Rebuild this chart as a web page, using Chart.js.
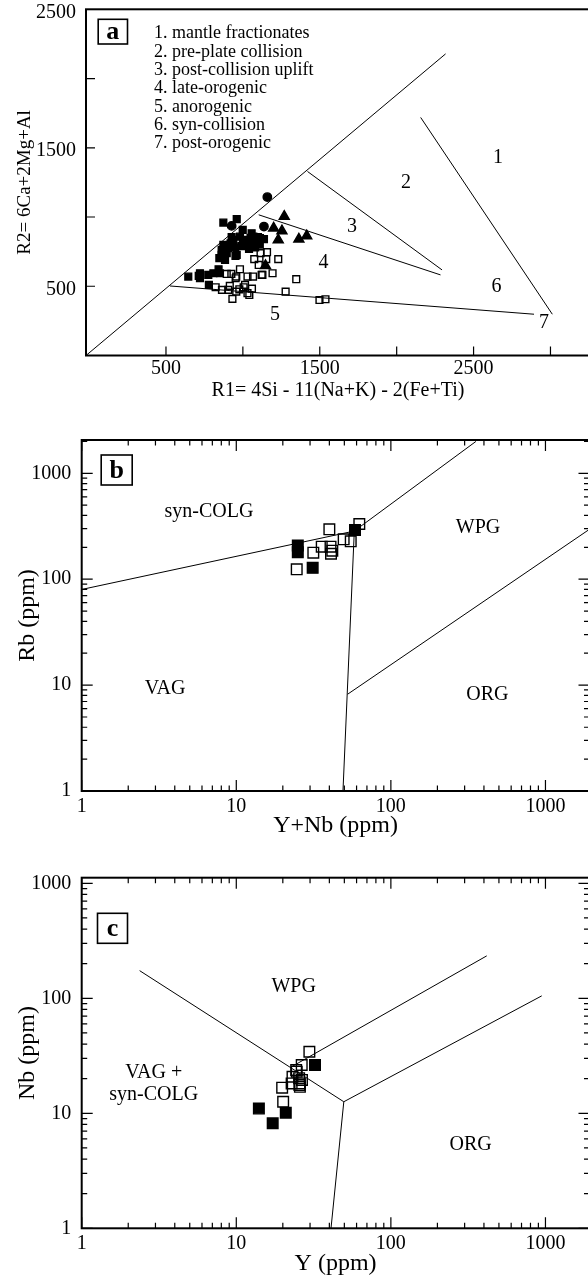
<!DOCTYPE html>
<html lang="en">
<head>
    <meta charset="UTF-8">
    <title>Granite tectonic discrimination diagrams</title>
    <script src="https://cdn.jsdelivr.net/npm/chart.js@4.4.1/dist/chart.umd.min.js"></script>
    <style>
        html, body {
            margin: 0;
            padding: 0;
            background: #fff;
        }

        body {
            width: 588px;
            height: 1278px;
            overflow: hidden;
            position: relative;
        }

        canvas {
            position: absolute;
            left: 0;
        }

        #chartA { top: 0; }
        #chartB { top: 410px; }
        #chartC { top: 850px; }
    </style>
</head>

<body>
    <canvas id="chartA" width="600" height="410"></canvas>
    <canvas id="chartB" width="600" height="440"></canvas>
    <canvas id="chartC" width="600" height="428"></canvas>
    <script>
        // ---- (a) R1-R2 diagram ----
        const aFilledSquares = [
            [873, 960], [960, 985], [999, 907], [1057, 883], [1098, 855], [1137, 840], [927, 855],
            [938, 835], [981, 859], [1025, 835], [1068, 859], [1111, 847], [1003, 799], [1068, 811],
            [873, 799], [1025, 811], [905, 775], [884, 787], [862, 763], [895, 739], [884, 750],
            [862, 727], [884, 690], [960, 727], [952, 719], [847, 703], [842, 623], [645, 570],
            [713, 575], [721, 594], [721, 558], [775, 582], [808, 594], [851, 594], [779, 510],
            [920, 810], [950, 780], [990, 790], [1040, 770], [1080, 780], [1110, 800], [1000, 830], [1050, 850]
        ];
        const aOpenSquares = [
            [1157, 746], [1115, 739], [1152, 696], [1074, 696], [1103, 654], [1230, 696], [1127, 582],
            [1193, 594], [1347, 551], [981, 623], [925, 589], [895, 589], [957, 570], [1030, 570],
            [1066, 570], [823, 493], [864, 474], [905, 474], [915, 503], [957, 461], [977, 478],
            [1005, 493], [1014, 510], [1030, 450], [1059, 483], [1042, 437], [932, 409], [1278, 461],
            [1498, 401], [1537, 406], [1122, 582], [953, 558]
        ];
        const aCircles = [[1159, 1144], [927, 936], [1137, 931]];
        const aTriangles = [[1269, 1004], [1200, 920], [1254, 900], [1230, 835], [1364, 840], [1415, 864], [1147, 649]];
        const aFieldLines = [
            [[-20, 0], [2318, 2178]],
            [[1420, 1329], [2295, 618]],
            [[1103, 1016], [2285, 582]],
            [[2156, 1719], [3012, 298]],
            [[526, 502], [2893, 298]]
        ];
        const aFieldNames = [
            ['1', 2659, 1428], ['2', 2060, 1244], ['3', 1709, 929], ['4', 1525, 669],
            ['5', 1209, 293], ['6', 2649, 495], ['7', 2958, 235]
        ];
        const aLegend = [
            '1. mantle fractionates', '2. pre-plate collision', '3. post-collision uplift',
            '4. late-orogenic', '5. anorogenic', '6. syn-collision', '7. post-orogenic'
        ];
        const aXTicks = [500, 1000, 1500, 2000, 2500, 3000];
        const aXLabels = [500, 1500, 2500];
        const aYTicks = [500, 1000, 1500, 2000];
        const aYLabels = [500, 1500, 2500];

        // ---- (b) Rb vs Y+Nb ----
        const bFilled = [[25, 208], [25, 180], [31.2, 128], [58.6, 291]];
        const bOpen = [
            [40, 296], [62.5, 332], [24.6, 124], [31.5, 178], [35.7, 203], [40.7, 203],
            [41.8, 186], [41, 174], [49.5, 238], [55, 228]
        ];
        const bFieldLines = [
            [[1, 80], [58, 285]],
            [[58, 285], [355, 2000]],
            [[49, 1], [58, 285]],
            [[52.5, 8.2], [1900, 292]]
        ];
        const bFieldNames = [['syn-COLG', 6.65, 434], ['WPG', 366, 303], ['VAG', 3.46, 9.25], ['ORG', 421, 8.19]];

        // ---- (c) Nb vs Y ----
        const cFilled = [[14.0, 11.0], [17.2, 8.2], [20.9, 10.1], [32.3, 26.3]];
        const cOpen = [
            [29.7, 34.3], [19.8, 16.7], [20.1, 12.6], [23.1, 20.8], [24.4, 23.8], [26.5, 26.3],
            [25.5, 20.2], [25.8, 18.2], [25.8, 17.0], [26.6, 19.5], [22.8, 18.2], [24.6, 23.0], [25.6, 17.6]
        ];
        const cFieldLines = [
            [[2.37, 174], [49.6, 12.6]],
            [[22.8, 25.4], [417, 234]],
            [[49.6, 12.6], [946, 105]],
            [[49.6, 12.6], [41, 1]]
        ];
        const cFieldNames = [['WPG', 23.5, 125], ['VAG +', 2.92, 22.5], ['syn-COLG', 2.92, 14.6], ['ORG', 328, 5.3]];

        const logLabels = [1, 10, 100, 1000];

        const serif = 'Liberation Serif';
        const pts = arr => arr.map(([x, y]) => ({ x, y }));

        function logTickMarks(max) {
            const marks = [];
            for (let d = 1; d <= 1000; d *= 10) {
                for (let m = 1; m <= 9; m++) {
                    const v = d * m;
                    if (v <= max) marks.push([v, m === 1 ? 11 : 5.5]);
                }
            }
            return marks;
        }

        function lineSets(lines) {
            return lines.map(line => ({
                type: 'line',
                data: pts(line),
                showLine: true,
                borderColor: '#000',
                borderWidth: 1,
                pointRadius: 0,
                fill: false,
                tension: 0,
                order: 1
            }));
        }

        function markSet(data, style, radius, filled) {
            return {
                data: pts(data),
                pointStyle: style,
                pointRadius: radius,
                borderWidth: 1.4,
                borderColor: '#000',
                backgroundColor: filled ? '#000' : 'rgba(0,0,0,0)',
                order: 0
            };
        }

        const decor = {
            id: 'decor',
            afterDatasetsDraw(chart, args, o) {
                const { ctx, chartArea: ca } = chart;
                const x = chart.scales.x, y = chart.scales.y;
                ctx.save();
                ctx.strokeStyle = '#000';
                ctx.fillStyle = '#000';

                ctx.lineWidth = 1.2;
                ctx.beginPath();
                o.xTicks.forEach(([v, len]) => {
                    const px = x.getPixelForValue(v);
                    ctx.moveTo(px, ca.bottom);
                    ctx.lineTo(px, ca.bottom - len);
                    if (o.mirror) {
                        ctx.moveTo(px, ca.top);
                        ctx.lineTo(px, ca.top + len);
                    }
                });
                o.yTicks.forEach(([v, len]) => {
                    const py = y.getPixelForValue(v);
                    ctx.moveTo(ca.left, py);
                    ctx.lineTo(ca.left + len, py);
                    if (o.mirror) {
                        ctx.moveTo(ca.right, py);
                        ctx.lineTo(ca.right - len, py);
                    }
                });
                ctx.stroke();

                ctx.lineWidth = 2;
                ctx.strokeRect(ca.left, ca.top, ca.right - ca.left, ca.bottom - ca.top);

                // panel letter
                const [bx, by, bw, bh] = o.box;
                ctx.lineWidth = 1.6;
                ctx.strokeRect(bx, by, bw, bh);
                ctx.font = `bold 26px "${serif}"`;
                ctx.textAlign = 'center';
                ctx.textBaseline = 'middle';
                ctx.fillText(o.letter, bx + bw / 2, by + bh / 2 + 1);

                // field names
                ctx.font = `20px "${serif}"`;
                o.names.forEach(([t, vx, vy]) => {
                    ctx.fillText(t, x.getPixelForValue(vx), y.getPixelForValue(vy));
                });

                if (o.legend) {
                    ctx.font = `18px "${serif}"`;
                    ctx.textAlign = 'left';
                    ctx.textBaseline = 'alphabetic';
                    o.legend.forEach((t, i) => ctx.fillText(t, 154, 38.3 + i * 18.3));
                }
                ctx.restore();
            }
        };

        function diagram(id, geo, cfg) {
            const font = size => ({ family: serif, size, lineHeight: 1.2 });
            return new Chart(document.getElementById(id), {
                type: 'scatter',
                data: { datasets: cfg.datasets },
                options: {
                    responsive: false,
                    animation: false,
                    events: [],
                    layout: { padding: { left: 0, top: geo.top, right: geo.width - geo.right, bottom: 0 } },
                    plugins: {
                        legend: { display: false },
                        tooltip: { enabled: false },
                        decor: cfg.decor
                    },
                    scales: {
                        x: {
                            type: cfg.type,
                            min: cfg.xMin,
                            max: cfg.xMax,
                            grid: { display: false, drawTicks: false },
                            border: { display: false },
                            afterBuildTicks: s => { s.ticks = cfg.xLabels.map(v => ({ value: v })); },
                            afterFit: s => {
                                s.height = geo.height - geo.bottom;
                                s.paddingLeft = 0;
                                s.paddingRight = 0;
                            },
                            ticks: {
                                font: font(cfg.tickSize), color: '#000', padding: cfg.xTickPad,
                                autoSkip: false, maxRotation: 0, callback: v => String(v)
                            },
                            title: {
                                display: true, text: cfg.xTitle, color: '#000',
                                font: font(cfg.titleSize), padding: { top: 0, bottom: cfg.xTitlePad }
                            }
                        },
                        y: {
                            type: cfg.type,
                            min: cfg.yMin,
                            max: cfg.yMax,
                            grid: { display: false, drawTicks: false },
                            border: { display: false },
                            afterBuildTicks: s => { s.ticks = cfg.yLabels.map(v => ({ value: v })); },
                            afterFit: s => {
                                s.width = geo.left;
                                s.paddingTop = 0;
                                s.paddingBottom = 0;
                            },
                            ticks: {
                                font: font(cfg.tickSize), color: '#000', padding: cfg.yTickPad,
                                labelOffset: cfg.yLabelShift || 0,
                                autoSkip: false, callback: v => String(v)
                            },
                            title: {
                                display: true, text: cfg.yTitle, color: '#000',
                                font: font(cfg.yTitleSize || cfg.titleSize), padding: { top: cfg.yTitlePad, bottom: 0 }
                            }
                        }
                    }
                },
                plugins: [decor]
            });
        }

        diagram('chartA', { width: 600, height: 410, left: 86, top: 9.3, right: 590, bottom: 355.5 }, {
            type: 'linear',
            xMin: -20, xMax: 3257, yMin: 0, yMax: 2500,
            xLabels: aXLabels, yLabels: aYLabels,
            tickSize: 20, titleSize: 20, yTitleSize: 19,
            xTickPad: 1, xTitlePad: 7.7, yTickPad: 10, yTitlePad: 13.4, yLabelShift: 3,
            xTitle: 'R1= 4Si - 11(Na+K) - 2(Fe+Ti)',
            yTitle: 'R2= 6Ca+2Mg+Al',
            datasets: [
                ...lineSets(aFieldLines),
                markSet(aOpenSquares, 'rect', 4.8, false),
                markSet(aFilledSquares, 'rect', 4.8, true),
                markSet(aCircles, 'circle', 4.2, true),
                markSet(aTriangles, 'triangle', 5.8, true)
            ],
            decor: {
                letter: 'a', box: [98.2, 19.3, 29.3, 24.7], mirror: false,
                xTicks: aXTicks.map(v => [v, 9]), yTicks: aYTicks.map(v => [v, 9]),
                names: aFieldNames, legend: aLegend
            }
        });

        diagram('chartB', { width: 600, height: 440, left: 81.7, top: 30, right: 589.5, bottom: 381 }, {
            type: 'logarithmic',
            xMin: 1, xMax: 1927, yMin: 1, yMax: 2063,
            xLabels: logLabels, yLabels: logLabels,
            tickSize: 20, titleSize: 24,
            xTickPad: 3.6, xTitlePad: 9.7, yTickPad: 10.5, yTitlePad: 13.6,
            xTitle: 'Y+Nb (ppm)',
            yTitle: 'Rb (ppm)',
            datasets: [
                ...lineSets(bFieldLines),
                markSet(bOpen, 'rect', 7.5, false),
                markSet(bFilled, 'rect', 7.5, true)
            ],
            decor: {
                letter: 'b', box: [101.2, 45, 31, 30], mirror: true,
                xTicks: logTickMarks(1927), yTicks: logTickMarks(2063),
                names: bFieldNames
            }
        });

        diagram('chartC', { width: 600, height: 428, left: 81.7, top: 27.7, right: 589.5, bottom: 378.3 }, {
            type: 'logarithmic',
            xMin: 1, xMax: 1927, yMin: 1, yMax: 1119,
            xLabels: logLabels, yLabels: logLabels,
            tickSize: 20, titleSize: 24,
            xTickPad: 3.7, xTitlePad: 0, yTickPad: 10.5, yTitlePad: 13.6,
            xTitle: 'Y (ppm)',
            yTitle: 'Nb (ppm)',
            datasets: [
                ...lineSets(cFieldLines),
                markSet(cOpen, 'rect', 7.5, false),
                markSet(cFilled, 'rect', 7.5, true)
            ],
            decor: {
                letter: 'c', box: [97.5, 63.3, 30, 30], mirror: true,
                xTicks: logTickMarks(1927), yTicks: logTickMarks(1119),
                names: cFieldNames
            }
        });
    </script>
</body>
</html>
